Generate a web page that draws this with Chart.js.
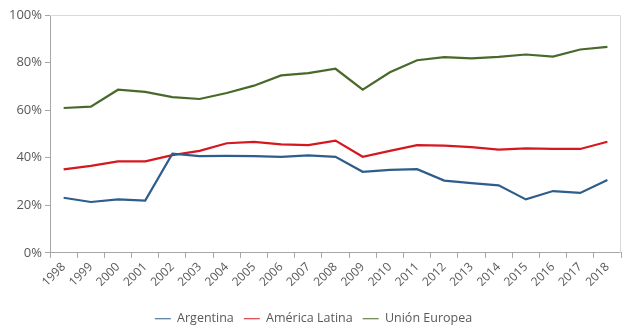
<!DOCTYPE html>
<html>
<head>
<meta charset="utf-8">
<script src="https://cdn.jsdelivr.net/npm/chart.js@4"></script>
<style>
  html, body { margin: 0; padding: 0; background: #fff; }
  #wrap { width: 634px; height: 335px; }
</style>
</head>
<body>
<div id="wrap"><canvas id="myChart" width="634" height="335"></canvas></div>
<script>
// data (percent)
const years = ['1998','1999','2000','2001','2002','2003','2004','2005','2006','2007','2008',
  '2009','2010','2011','2012','2013','2014','2015','2016','2017','2018'];
const argentina = [23.2, 21.4, 22.5, 22.0, 41.7, 40.7, 40.8, 40.7, 40.4, 41.0, 40.4,
  34.1, 34.9, 35.2, 30.4, 29.3, 28.4, 22.5, 26.0, 25.2, 30.6];
const americaLatina = [35.1, 36.6, 38.5, 38.5, 41.1, 42.9, 46.1, 46.7, 45.6, 45.3, 47.2,
  40.4, 42.9, 45.3, 45.1, 44.5, 43.4, 43.9, 43.7, 43.7, 46.7];
const unionEuropea = [60.9, 61.5, 68.6, 67.7, 65.5, 64.7, 67.2, 70.3, 74.6, 75.6, 77.4,
  68.6, 75.9, 81.0, 82.3, 81.8, 82.4, 83.4, 82.5, 85.5, 86.6];
const yTicks = [0, 20, 40, 60, 80, 100];

const axisGray = '#a6a6a6';
const textGray = '#595959';

// box round the plot area (top + right edges)
const plotBorder = {
  id: 'plotBorder',
  afterDraw(chart) {
    const a = chart.chartArea, c = chart.ctx;
    c.save();
    c.strokeStyle = '#d9d9d9';
    c.lineWidth = 1;
    c.beginPath();
    c.moveTo(a.left, a.top + 0.5);
    c.lineTo(a.right - 0.5, a.top + 0.5);
    c.lineTo(a.right - 0.5, a.bottom);
    c.stroke();
    c.restore();
  }
};

Chart.defaults.font.family = '"Open Sans", "Liberation Sans", sans-serif';
Chart.defaults.color = textGray;

var ctx = document.getElementById('myChart').getContext('2d');
var chart = new Chart(ctx, {
  type: 'line',
  data: {
    labels: years,
    datasets: [
      { label: 'Argentina', data: argentina, borderColor: '#2e5d8c', backgroundColor: '#2e5d8c' },
      { label: 'América Latina', data: americaLatina, borderColor: '#d51820', backgroundColor: '#d51820' },
      { label: 'Unión Europea', data: unionEuropea, borderColor: '#48692b', backgroundColor: '#48692b' }
    ]
  },
  options: {
    responsive: false,
    animation: false,
    elements: {
      line: { borderWidth: 2.2, tension: 0 },
      point: { radius: 0 }
    },
    layout: { padding: { left: 6, right: 13, top: 15, bottom: 0 } },
    plugins: {
      legend: {
        position: 'bottom',
        labels: {
          usePointStyle: true,
          pointStyle: 'line',
          pointStyleWidth: 16,
          boxHeight: 2,
          padding: 10,
          font: { size: 12.5 },
          color: textGray
        }
      },
      tooltip: { enabled: false }
    },
    scales: {
      x: {
        offset: true,
        afterFit(axis) { axis.height += 11; },
        grid: { display: true, drawOnChartArea: false, drawTicks: true, tickLength: 5, color: axisGray, offset: true },
        border: { color: axisGray, width: 1 },
        ticks: { minRotation: 45, maxRotation: 45, autoSkip: false, font: { size: 12 }, padding: 2 }
      },
      y: {
        min: 0,
        max: 100,
        afterBuildTicks(axis) { axis.ticks = yTicks.map(v => ({ value: v })); },
        grid: { display: true, drawOnChartArea: false, drawTicks: true, tickLength: 5, color: axisGray },
        border: { color: axisGray, width: 1 },
        ticks: { callback: v => v + '%', font: { size: 13 }, padding: 3 }
      }
    }
  },
  plugins: [plotBorder]
});
</script>
</body>
</html>
